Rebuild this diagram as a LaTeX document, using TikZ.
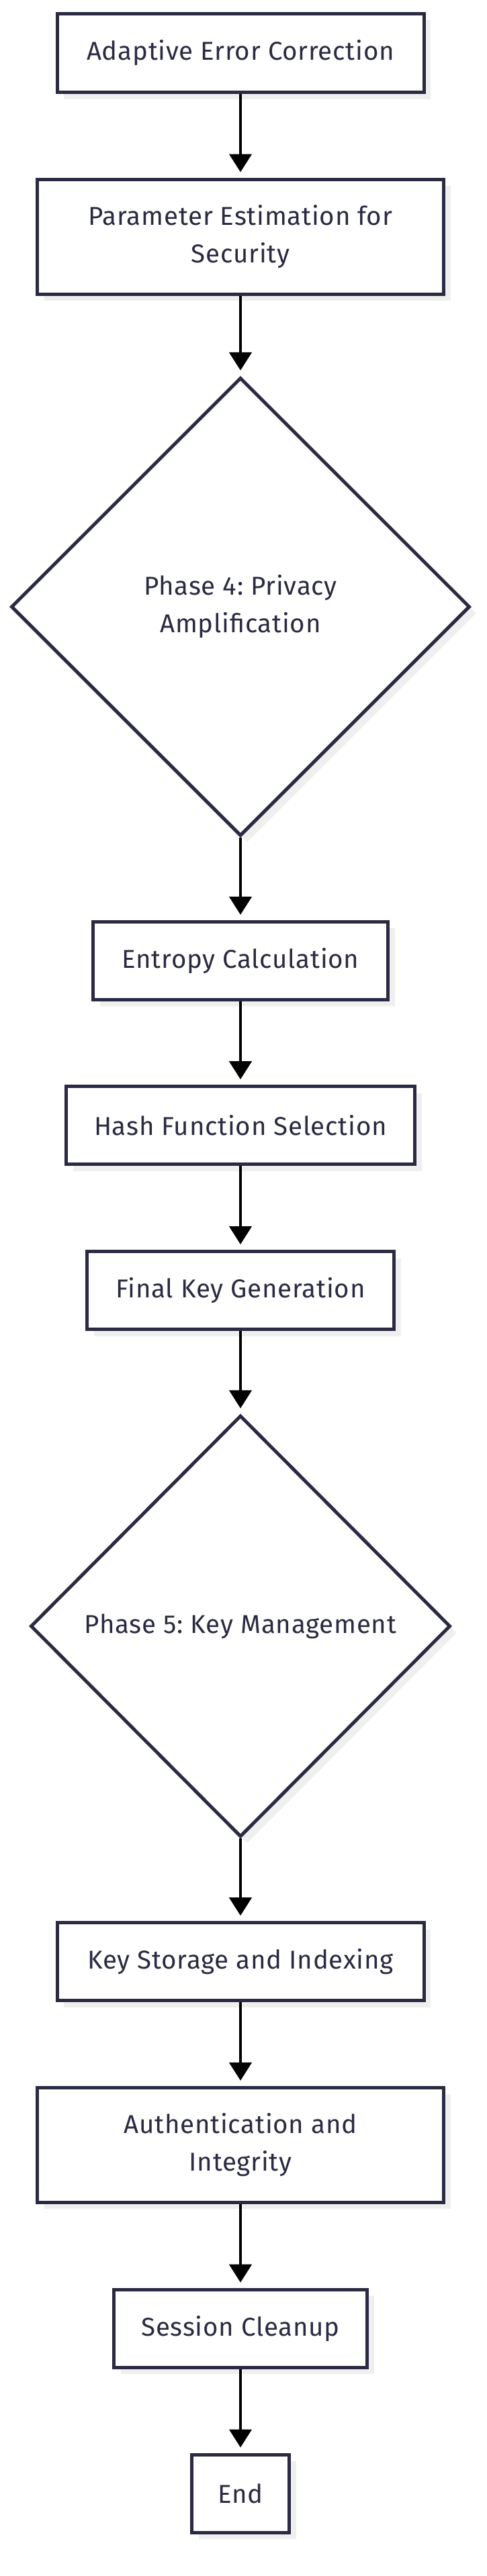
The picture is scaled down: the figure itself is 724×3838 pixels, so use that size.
\documentclass[tikz,border=0pt]{standalone}
\usepackage{fontspec}
\setmainfont{Fira Sans}[LetterSpace=2]
\frenchspacing
\usetikzlibrary{shapes.geometric,arrows.meta,shadows}
\definecolor{ink}{HTML}{2A2A42}
\definecolor{shade}{HTML}{EFEFEF}
\tikzset{
  lbl/.style={text=ink, font=\fontsize{38.5}{56}\selectfont, align=center},
  shd/.style={drop shadow={shadow xshift=10pt, shadow yshift=-10pt, fill=shade, opacity=1}},
  box/.style={lbl, shd, draw=ink, line width=5pt, fill=white, inner sep=0pt, rectangle},
  dia/.style={lbl, shd, shape=diamond, aspect=1, draw=ink, line width=5pt, fill=white, inner sep=0pt},
  arr/.style={draw=black, line width=4.5pt, -{Triangle[width=33pt,length=27pt]}, shorten >=8pt},
}
\begin{document}
\begin{tikzpicture}[x=1pt,y=-1pt]
\useasboundingbox[fill=white] (0,0) rectangle (724,3838);
\node[box, minimum width=546pt, minimum height=117pt] (b1) at (358,79) {Adaptive Error Correction};
\node[box, minimum width=605pt, minimum height=171pt] (b2) at (358,352.5) {Parameter Estimation for\\Security};
\node[dia, minimum width=683pt, minimum height=683pt] (d1) at (358,904) {Phase 4: Privacy\\Amplification};
\node[box, minimum width=439pt, minimum height=116pt] (e) at (358,1431.4) {Entropy Calculation};
\node[box, minimum width=519pt, minimum height=116pt] (h) at (358,1676.7) {Hash Function Selection};
\node[box, minimum width=457pt, minimum height=116pt] (f) at (358,1922.5) {Final Key Generation};
\node[dia, minimum width=625pt, minimum height=628pt] (d2) at (358,2422.8) {Phase 5: Key Management};
\node[box, minimum width=546pt, minimum height=116pt] (k) at (358,2922.6) {Key Storage and Indexing};
\node[box, minimum width=605pt, minimum height=171pt] (a) at (358,3195.9) {Authentication and\\Integrity};
\node[box, minimum width=377pt, minimum height=116pt] (s) at (358,3469.2) {Session Cleanup};
\node[box, minimum width=145pt, minimum height=116pt] (en) at (358,3715) {End};
\draw[arr] (b1) -- (b2);
\draw[arr] (b2) -- (d1);
\draw[arr] (d1) -- (e);
\draw[arr] (e) -- (h);
\draw[arr] (h) -- (f);
\draw[arr] (f) -- (d2);
\draw[arr] (d2) -- (k);
\draw[arr] (k) -- (a);
\draw[arr] (a) -- (s);
\draw[arr] (s) -- (en);
\end{tikzpicture}
\end{document}
